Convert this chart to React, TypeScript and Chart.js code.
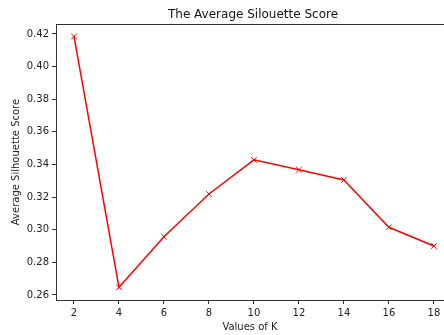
import React, { useEffect, useRef } from "react";
import { Chart, registerables } from "chart.js";

Chart.register(...registerables);

const K_VALUES = [2, 4, 6, 8, 10, 12, 14, 16, 18];
const SCORES = [0.4185, 0.2647, 0.2957, 0.3219, 0.3428, 0.3368, 0.3305, 0.3015, 0.29];
const X_TICKS = [2, 4, 6, 8, 10, 12, 14, 16, 18];
const Y_TICKS = [0.26, 0.28, 0.3, 0.32, 0.34, 0.36, 0.38, 0.4, 0.42];
const TITLE = "The Average Silouette Score";
const X_LABEL = "Values of K";
const Y_LABEL = "Average Silhouette Score";

const FONT = "'DejaVu Sans', sans-serif";

export default function App() {
  const ref = useRef<HTMLCanvasElement | null>(null);

  useEffect(() => {
    if (!ref.current) return;
    const titlePlugin = {
      id: "mplTitle",
      afterDraw(chart: any) {
        const { ctx, chartArea } = chart;
        ctx.save();
        ctx.strokeStyle = "#333";
        ctx.lineWidth = 1;
        ctx.beginPath();
        ctx.moveTo(chartArea.left, chartArea.top + 0.5);
        ctx.lineTo(chartArea.right, chartArea.top + 0.5);
        ctx.stroke();
        ctx.fillStyle = "#111";
        ctx.font = "12px " + FONT;
        ctx.textAlign = "center";
        ctx.textBaseline = "middle";
        ctx.fillText(TITLE, 253, 14.5);
        ctx.restore();
      },
    };
    const chart = new Chart(ref.current, {
      type: "line",
      data: {
        datasets: [
          {
            data: K_VALUES.map((k, i) => ({ x: k, y: SCORES[i] })),
            borderColor: "#ff0000",
            backgroundColor: "#ff0000",
            borderWidth: 1.5,
            pointStyle: "crossRot",
            pointRadius: 4,
            pointBorderWidth: 1,
            pointBorderColor: "#ff0000",
            tension: 0,
            fill: false,
          },
        ],
      },
      options: {
        animation: false,
        responsive: false,
        events: [],
        layout: { autoPadding: false, padding: { top: 24, right: 0, left: 0, bottom: 0 } },
        plugins: { legend: { display: false }, tooltip: { enabled: false }, title: { display: false } },
        scales: {
          x: {
            type: "linear",
            min: 1.2,
            max: 18.45,
            afterBuildTicks: (scale: any) => {
              scale.ticks = X_TICKS.map((v) => ({ value: v }));
            },
            afterFit: (scale: any) => {
              scale.height = 35;
              scale.paddingLeft = 0;
              scale.paddingRight = 0;
            },
            grid: { drawOnChartArea: false, tickLength: 4, tickColor: "#333", drawTicks: true },
            border: { display: true, color: "#333", width: 1 },
            ticks: {
              color: "#222",
              font: { family: FONT, size: 10 },
              padding: 3,
              maxRotation: 0,
              autoSkip: false,
              callback: (v: any) => String(v),
            },
            title: {
              display: true,
              text: X_LABEL,
              color: "#222",
              font: { family: FONT, size: 10 },
              padding: { top: 0, bottom: 2 },
            },
          },
          y: {
            type: "linear",
            min: 0.2569,
            max: 0.4261,
            afterBuildTicks: (scale: any) => {
              scale.ticks = Y_TICKS.map((v) => ({ value: v }));
            },
            afterFit: (scale: any) => {
              scale.width = 56;
              scale.paddingTop = 0;
              scale.paddingBottom = 0;
            },
            grid: { drawOnChartArea: false, tickLength: 4, tickColor: "#333" },
            border: { display: true, color: "#333", width: 1 },
            ticks: {
              color: "#222",
              font: { family: FONT, size: 10 },
              padding: 3,
              autoSkip: false,
              callback: (v: any) => Number(v).toFixed(2),
            },
            title: {
              display: true,
              text: Y_LABEL,
              color: "#222",
              font: { family: FONT, size: 10 },
              padding: { top: 10, bottom: 0 },
            },
          },
        },
      },
      plugins: [titlePlugin],
    });
    return () => chart.destroy();
  }, []);

  return (
    <div style={{ position: "fixed", left: 0, top: 0, width: 444, height: 335, background: "#fff" }}>
      <canvas ref={ref} width={444} height={335} style={{ width: 444, height: 335, display: "block" }} />
    </div>
  );
}
